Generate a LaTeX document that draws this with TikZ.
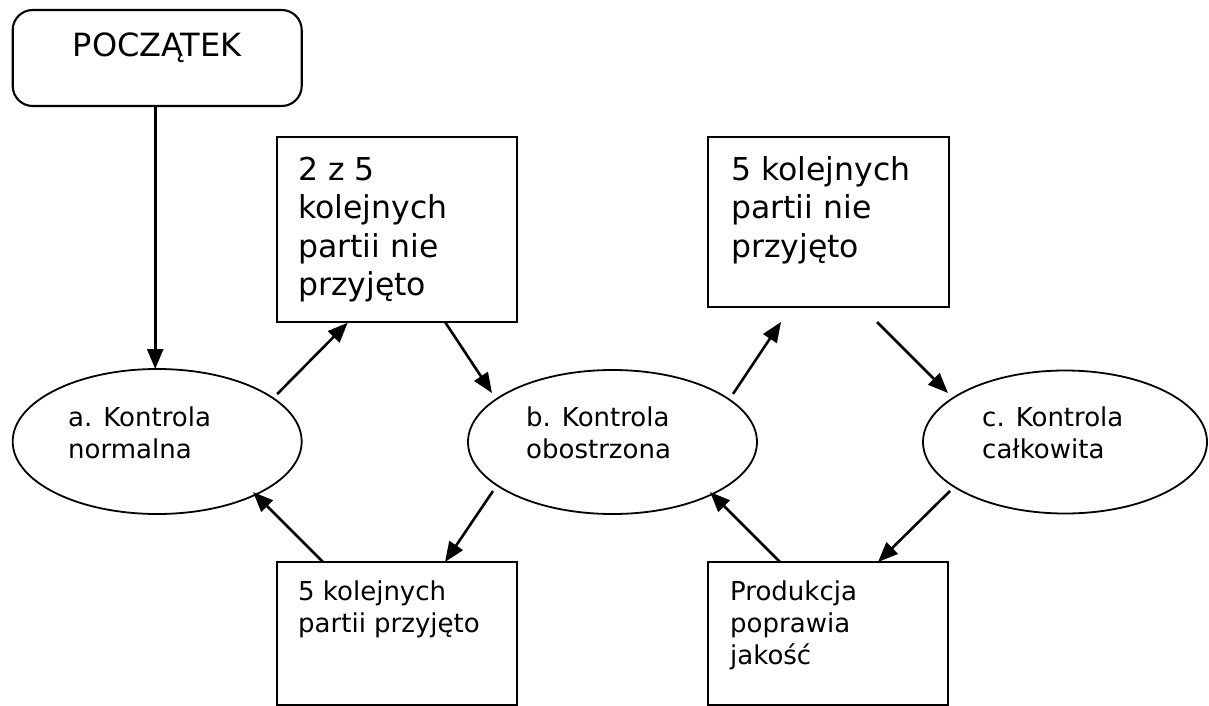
\documentclass[tikz,border=0pt]{standalone}
\usepackage{fontspec}
\setmainfont{DejaVu Sans}
\usetikzlibrary{arrows.meta,calc,shapes.geometric}
\begin{document}
\begin{tikzpicture}[x=1pt,y=-1pt,
  boxshape/.style={draw,line width=2.1pt,rectangle,inner sep=0pt},
  ovalshape/.style={draw,line width=1.8pt,ellipse,inner sep=0pt},
  bigtxt/.style={anchor=base west,inner sep=0pt,font=\fontsize{31.5}{38.5}\selectfont},
  smalltxt/.style={anchor=base west,inner sep=0pt,font=\fontsize{26}{32}\selectfont},
  arr/.style={line width=2.6pt,-{Triangle[length=20pt,width=16pt]}}]
\useasboundingbox (0,0) rectangle (1209,706);
% shapes
\node[boxshape,rounded corners=20pt,minimum width=289pt,minimum height=96pt] (start) at (157.2,58) {};
\node[boxshape,minimum width=240pt,minimum height=185pt] (b2) at (396.7,229.2) {};
\node[boxshape,minimum width=241pt,minimum height=170pt] (b3) at (828.5,222) {};
\node[boxshape,minimum width=240pt,minimum height=143pt] (b4) at (397,633.5) {};
\node[boxshape,minimum width=240pt,minimum height=143pt] (b5) at (828,633.5) {};
\node[ovalshape,minimum width=289pt,minimum height=145pt] (a) at (157.2,441.5) {};
\node[ovalshape,minimum width=289pt,minimum height=144pt] (b) at (612.5,442) {};
\node[ovalshape,minimum width=284pt,minimum height=143pt] (c) at (1065,442) {};
% texts
\node[anchor=base,inner sep=0pt,font=\fontsize{32}{38}\selectfont] (tstart) at (157.2,57) {POCZĄTEK};
\node[bigtxt] (t2) at (298,180) {\vtop{\hbox{2 z 5}\hbox{kolejnych}\hbox{partii nie}\hbox{przyjęto}}};
\node[bigtxt] (t3) at (731,180) {\vtop{\hbox{5 kolejnych}\hbox{partii nie}\hbox{przyjęto}}};
\node[smalltxt] (t4) at (298,600) {\vtop{\hbox{5 kolejnych}\hbox{partii przyjęto}}};
\node[smalltxt] (t5) at (730,600) {\vtop{\hbox{Produkcja}\hbox{poprawia}\hbox{jakość}}};
\node[smalltxt] (ta) at (68,426) {\vtop{\hbox{a. Kontrola}\hbox{normalna}}};
\node[smalltxt] (tb) at (526,426) {\vtop{\hbox{b. Kontrola}\hbox{obostrzona}}};
\node[smalltxt] (tc) at (982,426) {\vtop{\hbox{c. Kontrola}\hbox{całkowita}}};
% connectors
\draw[arr] ($(start.center)+(-2,48)$) -- ($(a.center)+(-2,-72.5)$);
\draw[arr] ($(a.center)+(120,-47.5)$) -- ($(b2.center)+(-49,93.5)$);
\draw[arr] ($(b2.center)+(48.3,92.8)$) -- ($(b.center)+(-120.5,-49)$);
\draw[arr] ($(b.center)+(120.5,-48)$) -- ($(b3.center)+(-47.5,100)$);
\draw[arr] ($(b3.center)+(48.5,100)$) -- ($(c.center)+(-117,-49)$);
\draw[arr] ($(b.center)+(-119.5,49)$) -- ($(b4.center)+(48,-71.5)$);
\draw[arr] ($(b4.center)+(-74,-71.5)$) -- ($(a.center)+(95.8,50.5)$);
\draw[arr] ($(b5.center)+(-48,-71.5)$) -- ($(b.center)+(97.5,50)$);
\draw[arr] ($(c.center)+(-115,49)$) -- ($(b5.center)+(50,-71.5)$);
\end{tikzpicture}
\end{document}
